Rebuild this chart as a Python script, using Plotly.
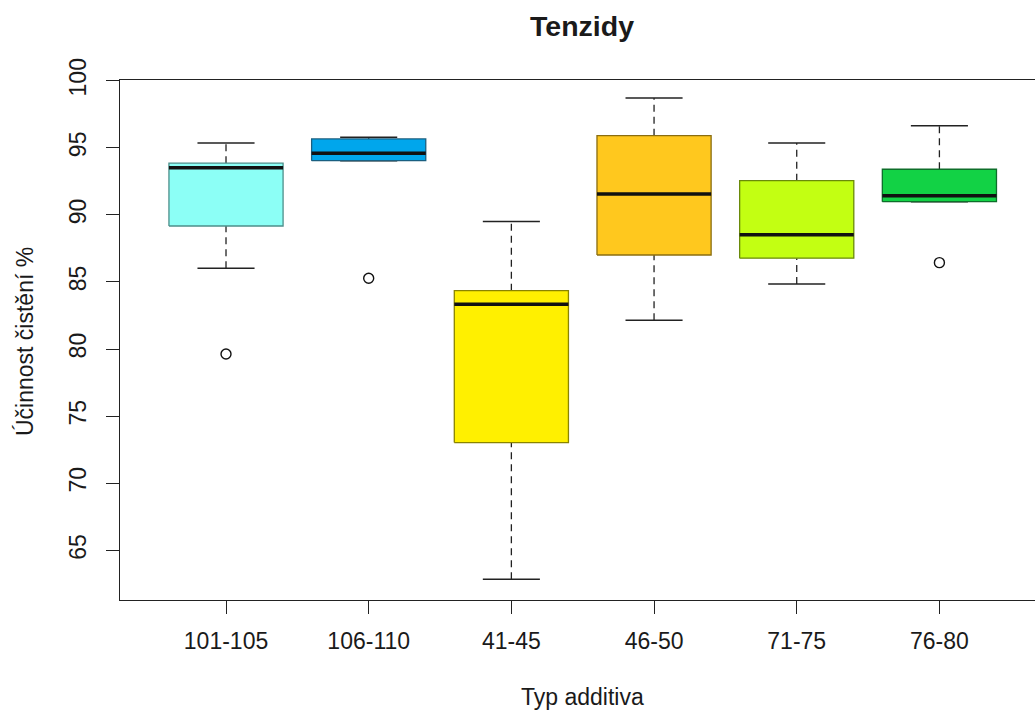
import plotly.graph_objects as go

categories = ["101-105", "106-110", "41-45", "46-50", "71-75", "76-80"]
lower_whisker = [86.02, 94.04, 62.85, 82.15, 84.85, 90.98]
q1 = [89.17, 94.04, 73.03, 87.01, 86.77, 90.98]
median = [93.52, 94.59, 83.34, 91.56, 88.52, 91.43]
q3 = [93.85, 95.66, 84.35, 95.90, 92.55, 93.40]
upper_whisker = [95.36, 95.78, 89.50, 98.71, 95.36, 96.65]
outlier_cat = [0, 1, 5]
outlier_val = [79.63, 85.28, 86.44]
fills = ["#8CFFF6", "#00A6EC", "#FFF000", "#FFC81E", "#C3FF12", "#12D245"]
borders = ["#4E8F8B", "#1A5F80", "#8A8400", "#8A6D10", "#6A8A0A", "#0E6E2A"]
y_ticks = [65, 70, 75, 80, 85, 90, 95, 100]

FONT = "Liberation Sans, Arial, sans-serif"
BW = 0.4   # half box width (boxwex 0.8)
SW = 0.2   # half staple width
AX = "#222222"
TXT = "#1a1a1a"

fig = go.Figure()

for i, cat in enumerate(categories):
    # whiskers (dashed)
    if upper_whisker[i] > q3[i]:
        fig.add_trace(go.Scatter(x=[i, i], y=[q3[i], upper_whisker[i]], mode="lines",
                                 line=dict(color="#222", width=1.3, dash="7px,5px"),
                                 showlegend=False, hoverinfo="skip"))
    if lower_whisker[i] < q1[i]:
        fig.add_trace(go.Scatter(x=[i, i], y=[lower_whisker[i], q1[i]], mode="lines",
                                 line=dict(color="#222", width=1.3, dash="7px,5px"),
                                 showlegend=False, hoverinfo="skip"))
    # staples
    for w in (upper_whisker[i], lower_whisker[i]):
        fig.add_trace(go.Scatter(x=[i - SW, i + SW], y=[w, w], mode="lines",
                                 line=dict(color="#222", width=1.5),
                                 showlegend=False, hoverinfo="skip"))
    # box
    fig.add_trace(go.Scatter(x=[i - BW, i + BW, i + BW, i - BW, i - BW],
                             y=[q1[i], q1[i], q3[i], q3[i], q1[i]],
                             mode="lines", fill="toself", fillcolor=fills[i],
                             line=dict(color=borders[i], width=1.3),
                             showlegend=False, hoverinfo="skip"))
    # median
    fig.add_trace(go.Scatter(x=[i - BW, i + BW], y=[median[i], median[i]], mode="lines",
                             line=dict(color="#111", width=3.5),
                             showlegend=False, hoverinfo="skip"))

fig.add_trace(go.Scatter(x=outlier_cat, y=outlier_val, mode="markers",
                         marker=dict(symbol="circle-open", size=10, color="#111",
                                     line=dict(width=1.4)),
                         showlegend=False, hoverinfo="skip"))

fig.update_layout(
    width=1035, height=712,
    margin=dict(l=120, r=0, t=80, b=112),
    paper_bgcolor="white", plot_bgcolor="white",
    font=dict(family=FONT, size=23, color=TXT),
    title=dict(text="<b>Tenzidy</b>", x=582 / 1035, xref="container", xanchor="center",
               y=1 - 26 / 712, yref="container", yanchor="middle",
               font=dict(family=FONT, size=28.5, color=TXT)),
    annotations=[
        dict(text="Typ additiva", xref="paper", yref="paper", x=(582 - 120) / 915, y=0,
             xanchor="center", yanchor="middle", yshift=-97, showarrow=False,
             font=dict(family=FONT, size=23, color=TXT)),
        dict(text="Účinnost čistění %", xref="paper", yref="paper", x=0, y=(600 - 342) / 520,
             xanchor="center", yanchor="middle", xshift=-95, textangle=-90, showarrow=False,
             font=dict(family=FONT, size=23, color=TXT)),
    ],
)

fig.update_xaxes(range=[-0.743, 5.670], tickmode="array", tickvals=list(range(len(categories))),
                 ticktext=categories, ticks="outside", ticklen=13, tickwidth=1.3, tickcolor=AX,
                 showline=True, linecolor=AX, linewidth=1.3, mirror=True, ticklabelstandoff=7,
                 showgrid=False, zeroline=False, tickfont=dict(size=23))
fig.update_yaxes(range=[61.30, 100.05], tickmode="array", tickvals=y_ticks,
                 ticks="outside", ticklen=13, tickwidth=1.3, tickcolor=AX, tickangle=-90,
                 showline=True, linecolor=AX, linewidth=1.3, mirror=False, ticklabelstandoff=11,
                 showgrid=False, zeroline=False, tickfont=dict(size=23))

fig.write_html("out.html", config={"displayModeBar": False},
               post_script="document.body.style.margin='0px';")
